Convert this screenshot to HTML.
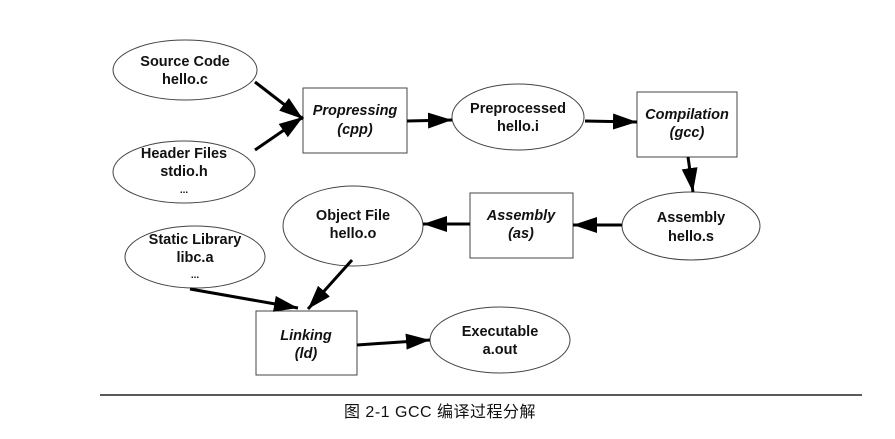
<!DOCTYPE html>
<html><head><meta charset="utf-8"><style>
html,body{margin:0;padding:0;background:#fff;}
svg{display:block;}
text{font-family:"Liberation Sans",Arial,sans-serif;font-weight:bold;font-size:14.5px;fill:#111;text-anchor:middle;}
.i{font-style:italic;}
</style></head><body>
<svg width="895" height="439" viewBox="0 0 895 439" xmlns="http://www.w3.org/2000/svg">
<defs>
<marker id="b" viewBox="0 0 24 16" markerWidth="24" markerHeight="16" refX="24" refY="8" orient="auto" markerUnits="userSpaceOnUse"><path d="M0,0 L24,8 L0,16 Z" fill="#000"/></marker></defs>
<g fill="none" stroke="#444" stroke-width="1">
<ellipse cx="185" cy="70" rx="72" ry="30"/>
<ellipse cx="184" cy="172" rx="71" ry="31"/>
<rect x="303" y="88" width="104" height="65"/>
<ellipse cx="518" cy="117" rx="66" ry="33"/>
<rect x="637" y="92" width="100" height="65"/>
<ellipse cx="691" cy="226" rx="69" ry="34"/>
<rect x="470" y="193" width="103" height="65"/>
<ellipse cx="353" cy="226" rx="70" ry="40"/>
<ellipse cx="195" cy="257" rx="70" ry="31"/>
<rect x="256" y="311" width="101" height="64"/>
<ellipse cx="500" cy="340" rx="70" ry="33"/>
</g>
<g stroke="#000" stroke-width="3" marker-end="url(#b)">
<line x1="255" y1="82" x2="303" y2="119"/>
<line x1="255" y1="150" x2="303" y2="117"/>
<line x1="407" y1="121" x2="452" y2="120"/>
<line x1="585" y1="121" x2="637" y2="122"/>
<line x1="688" y1="157" x2="693" y2="192"/>
<line x1="622" y1="225" x2="573" y2="225"/>
<line x1="470" y1="224" x2="423" y2="224"/>
<line x1="352" y1="260" x2="308" y2="309"/>
<line x1="190" y1="289" x2="298" y2="308"/>
<line x1="357" y1="345" x2="430" y2="340"/>
</g>
<text x="185" y="66">Source Code</text><text x="185" y="84">hello.c</text>
<text x="184" y="158">Header Files</text><text x="184" y="176">stdio.h</text><text x="184" y="193" style="font-size:10px">...</text>
<text class="i" x="355" y="115">Propressing</text><text class="i" x="355" y="134">(cpp)</text>
<text x="518" y="113">Preprocessed</text><text x="518" y="131">hello.i</text>
<text class="i" x="687" y="119">Compilation</text><text class="i" x="687" y="137">(gcc)</text>
<text x="691" y="222">Assembly</text><text x="691" y="241">hello.s</text>
<text class="i" x="521" y="220">Assembly</text><text class="i" x="521" y="238">(as)</text>
<text x="353" y="220">Object File</text><text x="353" y="238">hello.o</text>
<text x="195" y="244">Static Library</text><text x="195" y="262">libc.a</text><text x="195" y="278" style="font-size:10px">...</text>
<text class="i" x="306" y="340">Linking</text><text class="i" x="306" y="358">(ld)</text>
<text x="500" y="336">Executable</text><text x="500" y="354">a.out</text>
<line x1="100" y1="395" x2="862" y2="395" stroke="#222" stroke-width="1.5"/>
<text x="440" y="417" style="font-family:'Liberation Sans','Noto Sans CJK SC',sans-serif;font-weight:normal;font-size:16px;letter-spacing:0.5px">图 2-1   GCC 编译过程分解</text>
</svg>
</body></html>
